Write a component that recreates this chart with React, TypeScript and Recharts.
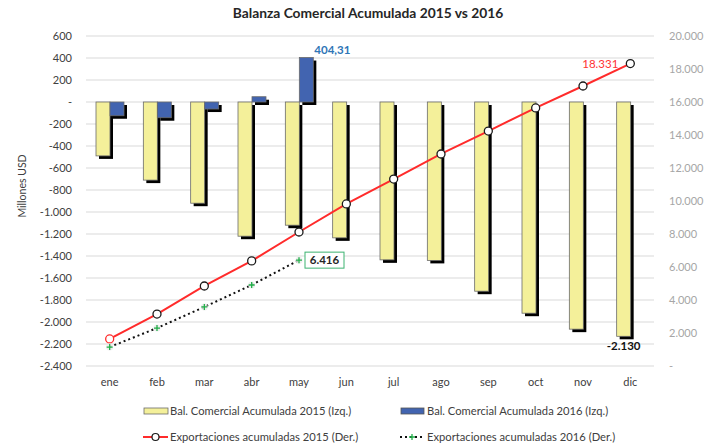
import React from "react";
import {
  ComposedChart, Bar, Line, XAxis, YAxis, CartesianGrid, Legend, LabelList,
} from "recharts";

const months = ["ene", "feb", "mar", "abr", "may", "jun", "jul", "ago", "sep", "oct", "nov", "dic"];
const bal2015 = [-490, -710, -920, -1220, -1120, -1235, -1435, -1440, -1720, -1920, -2065, -2130];
const bal2016 = [-125, -143, -64, 48, 404.31, null, null, null, null, null, null, null];
const exp2015 = [1640, 3150, 4850, 6370, 8120, 9820, 11330, 12850, 14240, 15640, 16970, 18331];
const exp2016 = [1150, 2300, 3580, 4910, 6416, null, null, null, null, null, null, null];

const leftTicks = [-2400, -2200, -2000, -1800, -1600, -1400, -1200, -1000, -800, -600, -400, -200, 0, 200, 400, 600];
const rightTicks = [0, 2000, 4000, 6000, 8000, 10000, 12000, 14000, 16000, 18000, 20000];

const data = months.map((m, i) => ({
  month: m,
  b15: bal2015[i],
  b16: bal2016[i],
  e15: exp2015[i],
  e16: exp2016[i],
}));

const FONT = "Lato, 'Open Sans', sans-serif";

const fmtDots = (v: number) => {
  if (v === 0) return "-";
  const s = String(Math.abs(Math.round(v))).replace(/\B(?=(\d{3})+(?!\d))/g, ".");
  return v < 0 ? "-" + s : s;
};

const ShadowBar = (props: any) => {
  const { x, y, width, height, fill } = props;
  if (x == null || height == null || !width) return null;
  const top = Math.min(y, y + height);
  const h = Math.abs(height);
  return (
    <g>
      <rect x={x + 3} y={top + 3} width={width} height={h} fill="#000" />
      <rect x={x} y={top} width={width} height={h} fill={fill} stroke="#6b6b6b" strokeWidth={0.8} />
    </g>
  );
};

const Dot15 = (props: any) => {
  const { cx, cy, index } = props;
  if (cx == null || cy == null) return null;
  return (
    <circle cx={cx} cy={cy} r={4} fill="#fff"
      stroke={index === 0 ? "#ff2b2b" : "#1a1a1a"} strokeWidth={1.3} />
  );
};

const Dot16 = (props: any) => {
  const { cx, cy } = props;
  if (cx == null || cy == null) return null;
  return (
    <g>
      <circle cx={cx} cy={cy} r={3.5} fill="#e8e8e8" opacity={0.8} />
      <path d={`M${cx - 3},${cy}H${cx + 3}M${cx},${cy - 3}V${cy + 3}`} stroke="#22b04a" strokeWidth={1.3} />
    </g>
  );
};

const Label404 = (props: any) => {
  const { x, y, width, index, value } = props;
  if (index !== 4 || value == null) return null;
  return (
    <text x={x + width + 1} y={y - 4} fill="#2e75b6" fontSize={11.5} fontWeight={700} fontFamily={FONT}>
      {String(value).replace(".", ",")}
    </text>
  );
};

const LabelDic = (props: any) => {
  const { x, y, width, height, index, value } = props;
  if (index !== 11 || value == null) return null;
  const bottom = Math.max(y, y + height);
  return (
    <text x={x + width / 2} y={bottom + 14} textAnchor="middle" fill="#111" fontSize={11.5} fontWeight={700} fontFamily={FONT}>
      {fmtDots(value)}
    </text>
  );
};

const LabelE15 = (props: any) => {
  const { x, y, index, value } = props;
  if (index !== 11 || value == null) return null;
  return (
    <text x={x - 12} y={y + 4} textAnchor="end" fill="#ff3333" fontSize={11.5} fontFamily={FONT}>
      {fmtDots(value)}
    </text>
  );
};

const LabelE16 = (props: any) => {
  const { x, y, index, value } = props;
  if (index !== 4 || value == null) return null;
  return (
    <g>
      <rect x={x + 6} y={y - 8} width={39} height={16} fill="#fff" stroke="#3cb371" strokeWidth={1} />
      <text x={x + 25.5} y={y + 4} textAnchor="middle" fill="#262626" fontSize={11.5} fontWeight={700} fontFamily={FONT}>
        {fmtDots(value)}
      </text>
    </g>
  );
};

const LegendBox = () => {
  const txt: React.CSSProperties = {
    position: "absolute", fontSize: 11.2, color: "#404040", fontFamily: FONT, whiteSpace: "nowrap", lineHeight: "12px",
  };
  return (
    <div style={{ position: "relative", width: 721, height: 50 }}>
      <svg width={721} height={50} style={{ position: "absolute", left: 0, top: 0 }}>
        <rect x={144} y={10} width={24} height={6} fill="#f4f09a" stroke="#6b6b6b" strokeWidth={0.8} />
        <rect x={401} y={10} width={23} height={6} fill="#4264b0" stroke="#555" strokeWidth={0.8} />
        <line x1={143} y1={39} x2={168} y2={39} stroke="#ff2b2b" strokeWidth={2} />
        <circle cx={155.5} cy={39} r={3.5} fill="#fff" stroke="#1a1a1a" strokeWidth={1.2} />
        <line x1={400} y1={39} x2={424} y2={39} stroke="#111" strokeWidth={2} strokeDasharray="2 3" />
        <path d="M409,39H415M412,36V42" stroke="#22b04a" strokeWidth={1.3} />
      </svg>
      <span style={{ ...txt, left: 170, top: 7 }}>Bal. Comercial Acumulada 2015 (Izq.)</span>
      <span style={{ ...txt, left: 427, top: 7 }}>Bal. Comercial Acumulada 2016 (Izq.)</span>
      <span style={{ ...txt, left: 170, top: 33 }}>Exportaciones acumuladas 2015 (Der.)</span>
      <span style={{ ...txt, left: 427, top: 33 }}>Exportaciones acumuladas 2016 (Der.)</span>
    </div>
  );
};

export default function App() {
  return (
    <div style={{ position: "absolute", left: 0, top: 0, width: 721, height: 448, background: "#fff", fontFamily: FONT }}>
      <div style={{ position: "absolute", left: 0, top: 4, width: 736, textAlign: "center", fontSize: 13.8, fontWeight: 700, color: "#262626" }}>
        Balanza Comercial Acumulada 2015 vs 2016
      </div>
      <div style={{
        position: "absolute", left: 22, top: 186, transform: "translate(-50%, -50%) rotate(-90deg)",
        fontSize: 10.5, color: "#404040", whiteSpace: "nowrap",
      }}>
        Millones USD
      </div>
      <ComposedChart
        width={721}
        height={448}
        data={data}
        margin={{ top: 36, right: 0, left: 0, bottom: 0 }}
        barGap={0}
        style={{ position: "absolute", left: 0, top: 0 }}
      >
        <CartesianGrid yAxisId="left" vertical={false} stroke="#d9d9d9" />
        <XAxis dataKey="month" axisLine={false} tickLine={false} height={32} tickMargin={6}
          tick={{ fill: "#404040", fontSize: 11, fontFamily: FONT }} interval={0} />
        <YAxis yAxisId="left" domain={[-2400, 600]} ticks={leftTicks} width={86} axisLine={false}
          tickLine={false} tickMargin={8} tickFormatter={fmtDots} interval={0}
          tick={{ fill: "#404040", fontSize: 11, fontFamily: FONT }} />
        <YAxis yAxisId="right" orientation="right" domain={[0, 20000]} ticks={rightTicks} width={67}
          axisLine={false} tickLine={false} tickMargin={9} tickFormatter={fmtDots} interval={0}
          tick={{ fill: "#a6a6a6", fontSize: 11, fontFamily: FONT }} />
        <Legend verticalAlign="bottom" content={<LegendBox />} wrapperStyle={{ left: 0, width: 721, height: 50 }} />
        <Bar yAxisId="left" dataKey="b15" barSize={14} fill="#f4f09a" shape={<ShadowBar />} isAnimationActive={false}>
          <LabelList dataKey="b15" content={<LabelDic />} />
        </Bar>
        <Bar yAxisId="left" dataKey="b16" barSize={14} fill="#4264b0" shape={<ShadowBar />} isAnimationActive={false}>
          <LabelList dataKey="b16" content={<Label404 />} />
        </Bar>
        <Line yAxisId="right" type="linear" dataKey="e15" stroke="#ff2b2b" strokeWidth={2}
          dot={<Dot15 />} activeDot={false} isAnimationActive={false}>
          <LabelList dataKey="e15" content={<LabelE15 />} />
        </Line>
        <Line yAxisId="right" type="linear" dataKey="e16" stroke="#111" strokeWidth={2} strokeDasharray="2 3"
          dot={<Dot16 />} activeDot={false} isAnimationActive={false} connectNulls={false}>
          <LabelList dataKey="e16" content={<LabelE16 />} />
        </Line>
      </ComposedChart>
    </div>
  );
}
